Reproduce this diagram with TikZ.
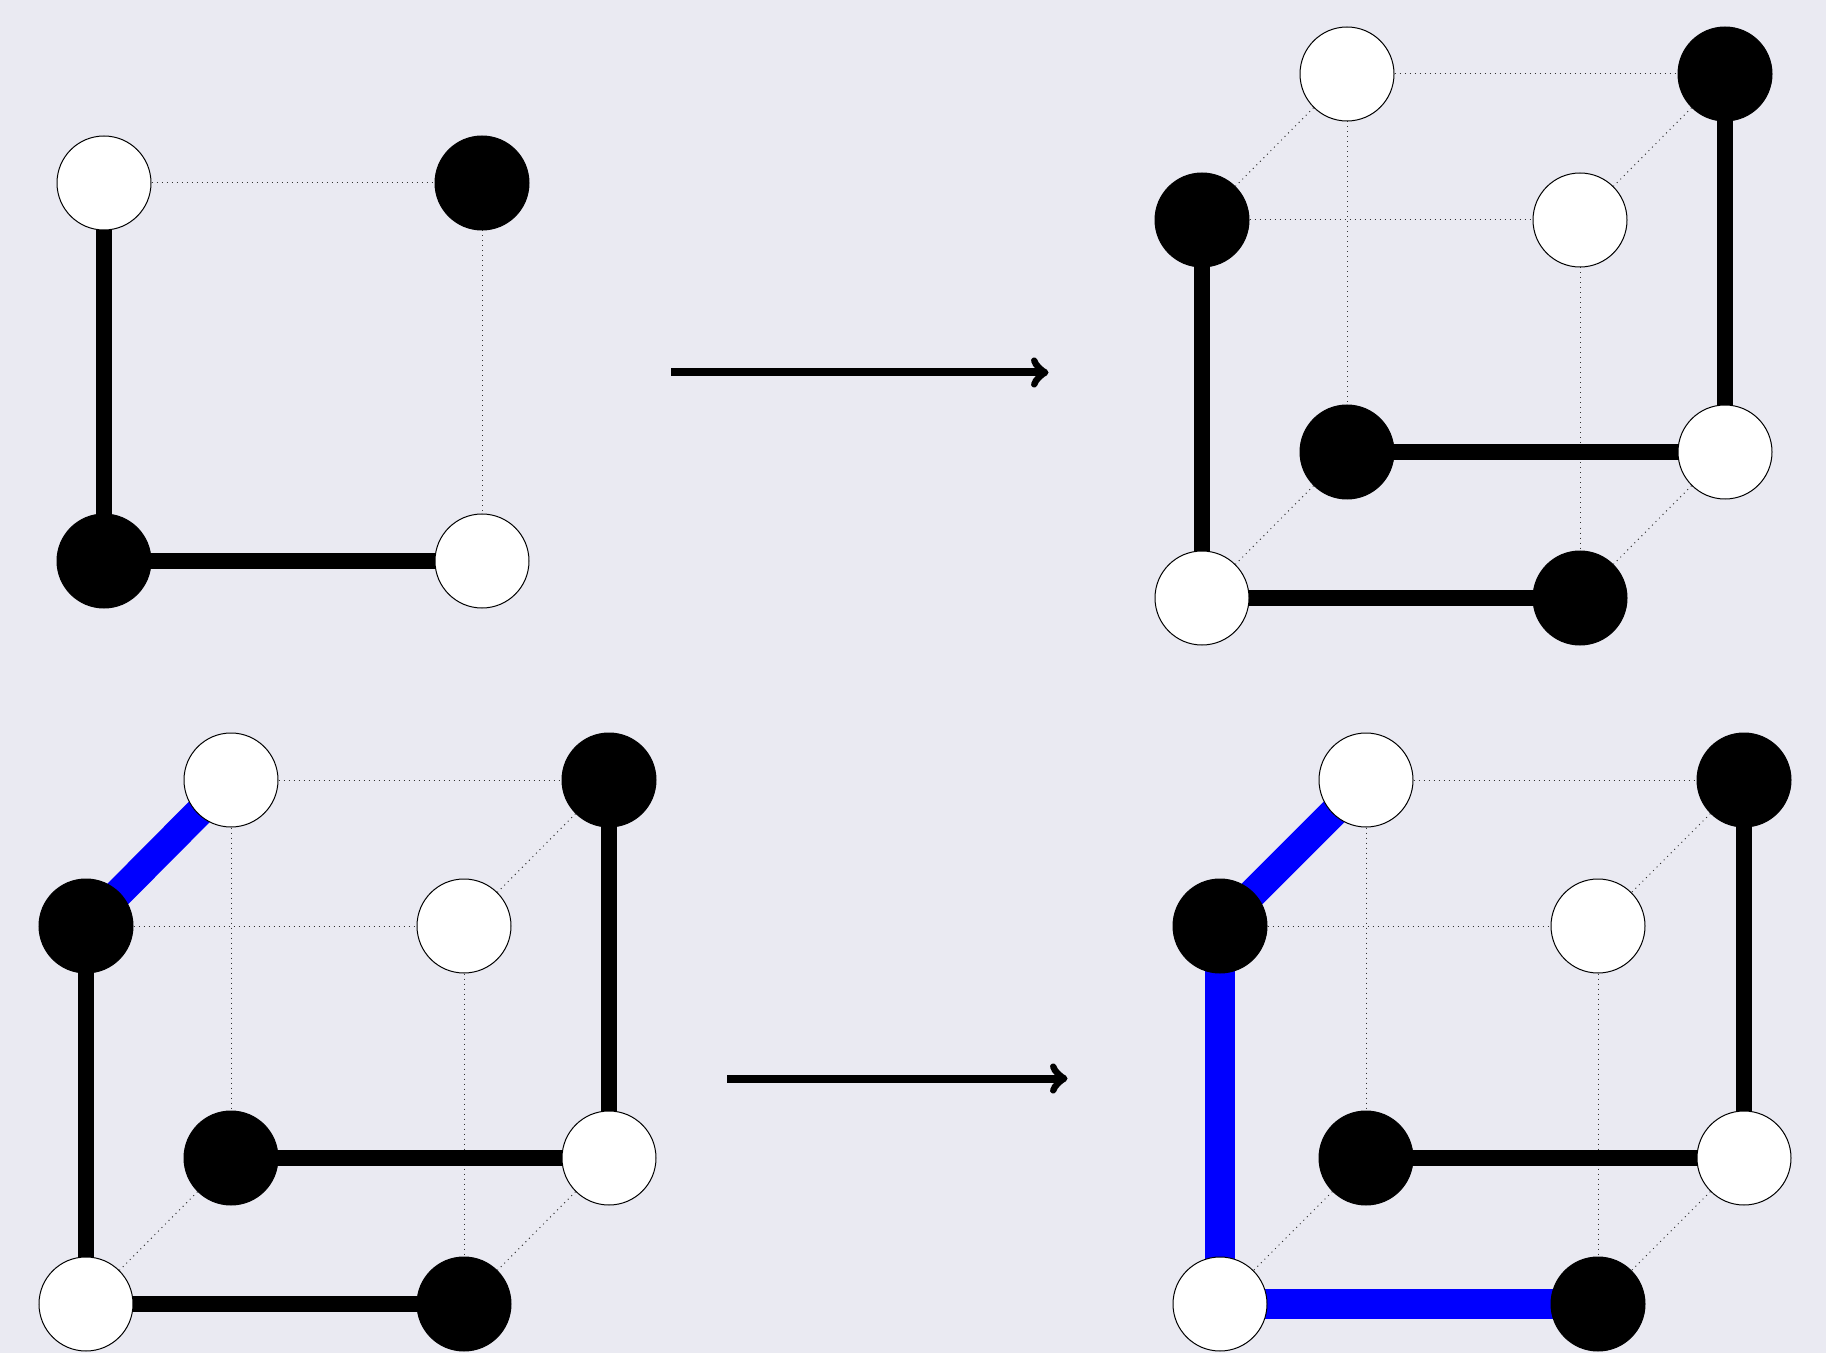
\documentclass[tikz,border=0pt]{standalone}
\usetikzlibrary{backgrounds}
\definecolor{bgcol}{RGB}{234,234,242}
\tikzset{
  vert/.style={circle,minimum size=47pt,inner sep=0pt,draw=black,line width=0.5pt},
  wv/.style={vert,fill=white},
  bv/.style={vert,fill=black},
  solidedge/.style={line width=8pt,black},
  blueedge/.style={line width=14.6pt,blue},
  dotedge/.style={dotted,line width=0.5pt,black!80},
  maparrow/.style={line width=4pt,->},
}
\begin{document}
\begin{tikzpicture}[x=0.5pt,y=-0.5pt]
\useasboundingbox (0,0) rectangle (1826,1353);
% ---------- top-left square
\node[wv] (sTL) at (104,183) {};
\node[bv] (sTR) at (482,183) {};
\node[bv] (sBL) at (104,561) {};
\node[wv] (sBR) at (482,561) {};
% ---------- top-right cube
\node[wv] (aBTL) at (1347,74) {};
\node[bv] (aBTR) at (1725,74) {};
\node[bv] (aBBL) at (1347,452) {};
\node[wv] (aBBR) at (1725,452) {};
\node[bv] (aFTL) at (1202,220) {};
\node[wv] (aFTR) at (1580,220) {};
\node[wv] (aFBL) at (1202,598) {};
\node[bv] (aFBR) at (1580,598) {};
% ---------- bottom-left cube
\node[wv] (bBTL) at (231,780) {};
\node[bv] (bBTR) at (609,780) {};
\node[bv] (bBBL) at (231,1158) {};
\node[wv] (bBBR) at (609,1158) {};
\node[bv] (bFTL) at (86,926) {};
\node[wv] (bFTR) at (464,926) {};
\node[wv] (bFBL) at (86,1304) {};
\node[bv] (bFBR) at (464,1304) {};
% ---------- bottom-right cube
\node[wv] (cBTL) at (1366,780) {};
\node[bv] (cBTR) at (1744,780) {};
\node[bv] (cBBL) at (1366,1158) {};
\node[wv] (cBBR) at (1744,1158) {};
\node[bv] (cFTL) at (1220,926) {};
\node[wv] (cFTR) at (1598,926) {};
\node[wv] (cFBL) at (1220,1304) {};
\node[bv] (cFBR) at (1598,1304) {};
% ---------- arrows
\coordinate (a1s) at (671,372.5);
\coordinate (a1e) at (1048.5,372.5);
\coordinate (a2s) at (727,1078.5);
\coordinate (a2e) at (1067.5,1078.5);
\draw[maparrow] (a1s) -- (a1e);
\draw[maparrow] (a2s) -- (a2e);
\begin{pgfonlayer}{background}
\fill[bgcol] (0,0) rectangle (1826,1353);
% square
\draw[dotedge] (sTL) -- (sTR);
\draw[dotedge] (sTR) -- (sBR);
\draw[solidedge] (sTL.center) -- (sBL.center);
\draw[solidedge] (sBL.center) -- (sBR.center);
% cube a
\foreach \u/\v in {BTL/BTR,BTL/BBL,FTL/FTR,FTR/FBR,BTL/FTL,BTR/FTR,BBL/FBL,BBR/FBR}
  \draw[dotedge] (a\u) -- (a\v);
\foreach \u/\v in {FTL/FBL,BTR/BBR,BBL/BBR,FBL/FBR}
  \draw[solidedge] (a\u.center) -- (a\v.center);
% cube b
\foreach \u/\v in {BTL/BTR,BTL/BBL,FTL/FTR,FTR/FBR,BTR/FTR,BBL/FBL,BBR/FBR}
  \draw[dotedge] (b\u) -- (b\v);
\foreach \u/\v in {FTL/FBL,BTR/BBR,BBL/BBR,FBL/FBR}
  \draw[solidedge] (b\u.center) -- (b\v.center);
\draw[blueedge] (bFTL.center) -- (bBTL.center);
% cube c
\foreach \u/\v in {BTL/BTR,BTL/BBL,FTL/FTR,FTR/FBR,BTR/FTR,BBL/FBL,BBR/FBR}
  \draw[dotedge] (c\u) -- (c\v);
\foreach \u/\v in {BTR/BBR,BBL/BBR}
  \draw[solidedge] (c\u.center) -- (c\v.center);
\foreach \u/\v in {FTL/BTL,FTL/FBL,FBL/FBR}
  \draw[blueedge] (c\u.center) -- (c\v.center);
\end{pgfonlayer}
\end{tikzpicture}
\end{document}
